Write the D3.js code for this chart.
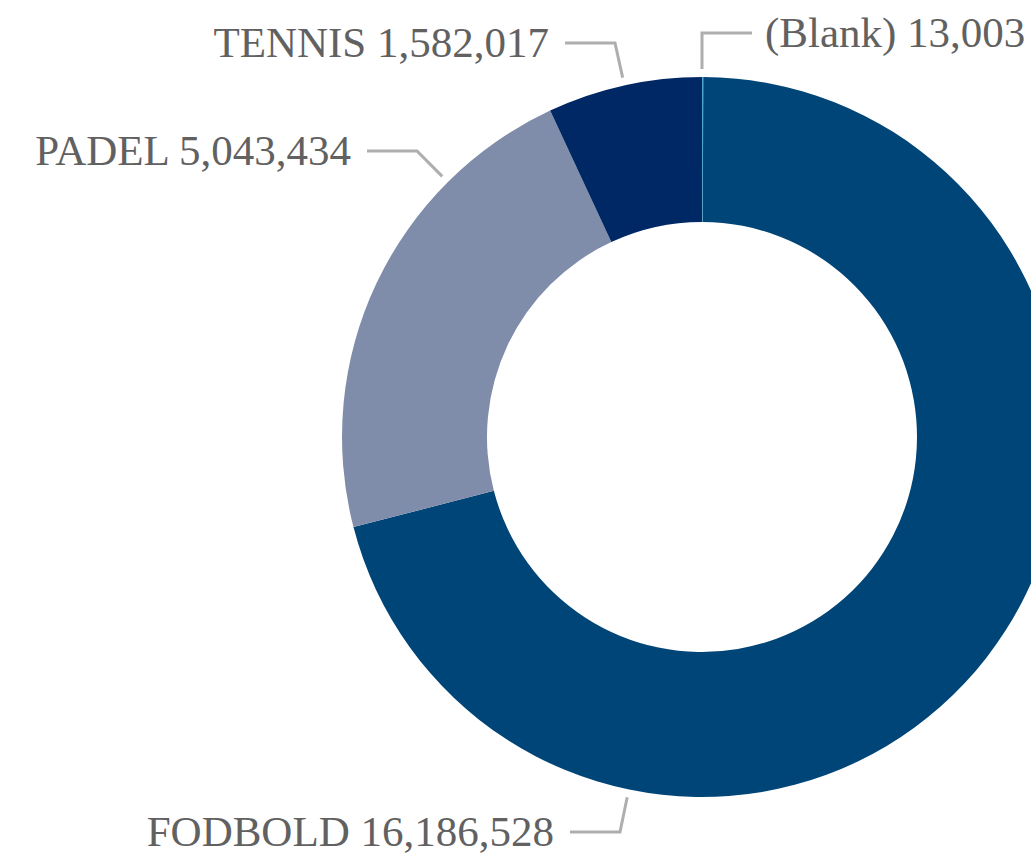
<!DOCTYPE html>
<html>
<head>
<meta charset="utf-8">
<script src="https://cdn.jsdelivr.net/npm/d3@7"></script>
<style>
  body { margin: 0; background: #fff; }
  svg { display: block; }
</style>
</head>
<body>
<div id="chart"></div>
<script>
// data, in drawing order (clockwise from 12 o'clock)
var categories = ["(Blank)", "FODBOLD", "PADEL", "TENNIS"];
var values = [13003, 16186528, 5043434, 1582017];
var colors = ["#4ba6cc", "#004578", "#808daa", "#002864"];

// where each label's leader elbow sits, and which side the text goes
var labelLayout = [
  {ex: 702, ey: 33, side: "right"},
  {ex: 620, ey: 832, side: "left"},
  {ex: 417, ey: 151, side: "left"},
  {ex: 615, ey: 43, side: "left"}
];

(function() {
  var width = 1031, height = 854;
  var cx = 702, cy = 437;
  var outerR = 360, innerR = 215;

  var svg = d3.select("#chart").append("svg")
              .attr("width", width)
              .attr("height", height);

  var data = categories.map(function(c, i) {
    return {name: c, value: values[i], color: colors[i], lay: labelLayout[i]};
  });

  var pie = d3.pie().sort(null).value(function(d) { return d.value; });
  var arc = d3.arc().innerRadius(innerR).outerRadius(outerR);
  var fmt = d3.format(",");

  var arcs = pie(data);

  var g = svg.append("g").attr("transform", "translate(" + cx + "," + cy + ")");

  g.selectAll("path.slice")
    .data(arcs)
    .enter().append("path")
    .attr("class", "slice")
    .attr("d", arc)
    .attr("fill", function(d) { return d.data.color; });

  // leader lines: from text, to the elbow, then toward the centre till just outside the ring
  var legLen = 50, gap = 8;
  var leaders = svg.append("g");
  arcs.forEach(function(a) {
    var L = a.data.lay;
    var dx = L.ex - cx, dy = L.ey - cy;
    var ang = Math.atan2(dx, -dy);
    if (ang < 0) ang += 2 * Math.PI;
    ang = Math.max(a.startAngle, Math.min(a.endAngle, ang));
    var r = outerR + gap;
    var px = cx + r * Math.sin(ang), py = cy - r * Math.cos(ang);
    var hx = L.side === "left" ? L.ex - legLen : L.ex + legLen;

    leaders.append("polyline")
      .attr("points", [[hx, L.ey], [L.ex, L.ey], [px, py]].map(function(p) { return p.join(","); }).join(" "))
      .attr("fill", "none")
      .attr("stroke", "#aeaeae")
      .attr("stroke-width", 3);

    svg.append("text")
      .attr("x", L.side === "left" ? hx - 16 : hx + 13)
      .attr("y", L.ey)
      .attr("dy", "0.32em")
      .attr("text-anchor", L.side === "left" ? "end" : "start")
      .style("font-family", "'Liberation Serif', 'Times New Roman', serif")
      .style("font-size", "43px")
      .style("fill", "#616161")
      .text(a.data.name + " " + fmt(a.data.value));
  });
})();
</script>
</body>
</html>
